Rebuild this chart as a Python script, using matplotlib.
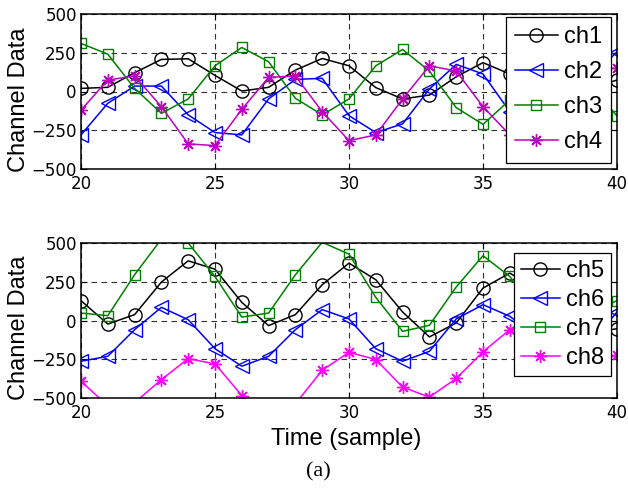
import matplotlib
matplotlib.use("Agg")
import matplotlib.pyplot as plt

# sample index
t = list(range(20, 41))

# top panel
ch1 = [20, 27, 121, 207, 211, 104, 3, 27, 138, 213, 166, 25, -48, -23, 95, 186, 113, 30, -10, 20, 74]
ch2 = [-280, -76, 35, 35, -151, -265, -280, -48, 78, 85, -156, -265, -209, 16, 175, 113, -130, -270, -150, 80, 257]
ch3 = [310, 241, 20, -141, -48, 166, 284, 192, -44, -151, -48, 166, 271, 132, -104, -212, -55, 150, 250, 50, -158]
ch4 = [-120, 74, 100, -98, -338, -349, -115, 91, 100, -130, -317, -280, -48, 166, 132, -98, -280, -200, -50, 150, 149]

# bottom panel
ch5 = [128, -23, 38, 248, 385, 331, 117, -33, 38, 231, 370, 263, 55, -106, -16, 209, 306, 200, 50, -80, -53]
ch6 = [-263, -231, -59, 85, 5, -182, -295, -231, -59, 70, 10, -182, -263, -199, 10, 102, 27, -100, -270, -150, 55]
ch7 = [48, 31, 295, 525, 500, 284, 22, 48, 295, 505, 428, 149, -70, -31, 216, 418, 284, 50, -50, 50, 128]
ch8 = [-392, -550, -530, -381, -246, -280, -484, -620, -537, -321, -205, -252, -430, -494, -374, -202, -59, -50, -150, -300, -220]

top_names = ["ch1", "ch2", "ch3", "ch4"]
bot_names = ["ch5", "ch6", "ch7", "ch8"]
yticks = [-500, -250, 0, 250, 500]
xticks = [20, 25, 30, 35, 40]

STAR = (8, 2, 0)  # matlab style asterisk
styles = [
    dict(color="k", marker="o", ms=9.5),
    dict(color="#0000ff", marker="<", ms=10),
    dict(color="#008000", marker="s", ms=7.5),
]

plt.rcParams["font.family"] = ["Liberation Sans", "DejaVu Sans"]

fig = plt.figure(figsize=(6.28, 4.88), dpi=100)
ax1 = fig.add_axes([81 / 628, 1 - 169 / 488, 536 / 628, 155 / 488])
ax2 = fig.add_axes([81 / 628, 1 - 398 / 488, 536 / 628, 155 / 488])


def draw(ax, series, names, pink):
    sty = styles + [dict(color=pink, marker=STAR, ms=9)]
    for y, name, s in zip(series, names, sty):
        # matlab drops markers of points outside the limits
        inside = [i for i, v in enumerate(y) if -500 <= v <= 500]
        ax.plot(t, y, color=s["color"], marker=s["marker"], ms=s["ms"],
                mfc="none", mec=s["color"], mew=1.0, lw=1.1, label=name,
                markevery=inside)
    ax.set_xlim(20, 40)
    ax.set_ylim(-500, 500)
    ax.set_xticks(xticks)
    ax.set_yticks(yticks)
    ax.grid(True, color="#303030", linestyle=(0, (5, 4)), lw=0.8)
    ax.tick_params(direction="in", length=4, width=0.8, top=True, right=True,
                   labelsize=12, pad=3)
    ax.tick_params(axis="x", pad=4)
    for lab in ax.get_xticklabels() + ax.get_yticklabels():
        lab.set_fontfamily("DejaVu Sans")
    for sp in ax.spines.values():
        sp.set_linewidth(1.1)
    ax.set_ylabel("Channel Data", fontsize=17)
    ax.yaxis.set_label_coords(-0.095, 0.45)


draw(ax1, [ch1, ch2, ch3, ch4], top_names, "#bf00bf")
draw(ax2, [ch5, ch6, ch7, ch8], bot_names, "#ff00ff")

leg1 = ax1.legend(loc="upper right", bbox_to_anchor=(0.989, 0.981), fontsize=17,
                  frameon=True, fancybox=False, framealpha=1, edgecolor="k",
                  borderaxespad=0, handlelength=1.8, handletextpad=0.25,
                  labelspacing=0.55, borderpad=0.4)
leg1.get_frame().set_linewidth(0.9)

leg2 = ax2.legend(loc="upper right", bbox_to_anchor=(0.989, 0.935), fontsize=17,
                  frameon=True, fancybox=False, framealpha=1, edgecolor="k",
                  borderaxespad=0, handlelength=1.65, handletextpad=0.25,
                  labelspacing=0.3, borderpad=0.3)
leg2.get_frame().set_linewidth(0.9)

ax2.set_xlabel("Time (sample)", fontsize=17)
ax2.xaxis.set_label_coords(0.495, -0.195)

fig.text(318 / 628, 1 - 472 / 488, "(a)", fontsize=16, family="Liberation Serif",
         ha="center", va="center")

fig.savefig("out.png", dpi=100)
